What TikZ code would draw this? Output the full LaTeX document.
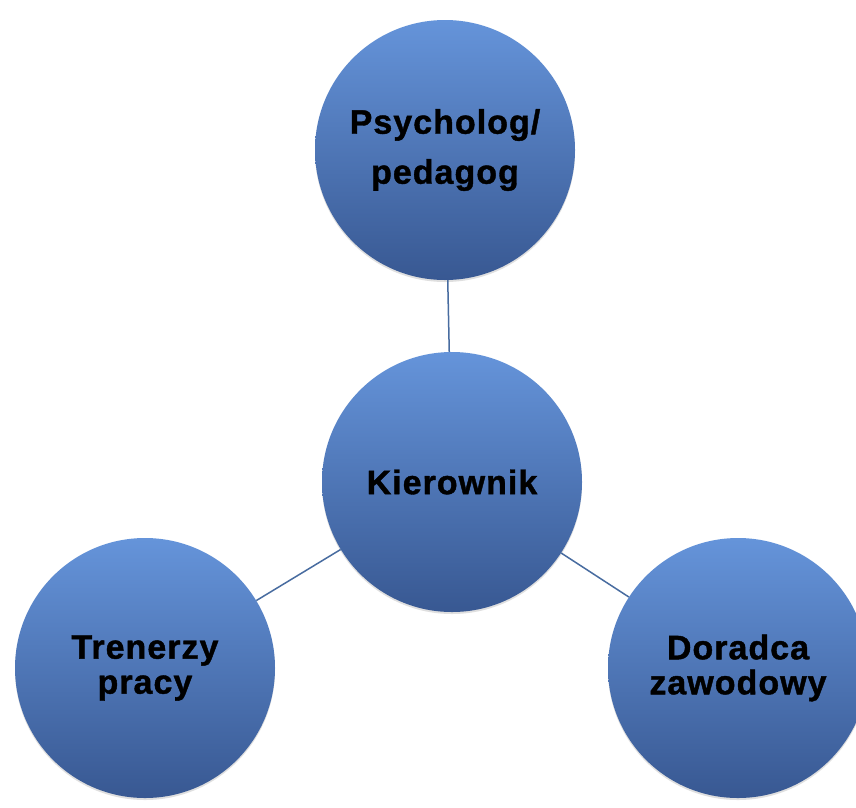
\documentclass[tikz,border=0pt]{standalone}
\usepackage{fontspec}
\setmainfont{Liberation Sans}
\usetikzlibrary{shadows}
\definecolor{ctop}{RGB}{101,148,218}
\definecolor{cbot}{RGB}{56,88,146}
\definecolor{cline}{RGB}{72,108,160}
\tikzset{
  ball/.style={circle, minimum size=260pt, inner sep=0pt, top color=ctop, bottom color=cbot,
    draw=none, align=center, text=black,
    font=\fontsize{34}{35}\selectfont\bfseries\addfontfeature{LetterSpace=3,FakeBold=1.2},
    drop shadow={opacity=0.25, shadow xshift=0pt, shadow yshift=-2pt}},
  link/.style={draw=cline, line width=1.5pt}
}
\begin{document}
\begin{tikzpicture}[x=1pt,y=1pt]
\clip (0,0) rectangle (856,-807);
\fill[white] (0,0) rectangle (856,-807);
\node[ball] (top) at (445,-150) {Psycholog/\\[15pt]pedagog};
\node[ball] (mid) at (452,-482) {Kierownik};
\node[ball] (left) at (145,-668) {Trenerzy\\pracy};
\node[ball] (right) at (738,-668) {Doradca\\zawodowy};
\draw[link] (top) -- (mid);
\draw[link] (mid) -- (left);
\draw[link] (mid) -- (right);
\end{tikzpicture}
\end{document}
